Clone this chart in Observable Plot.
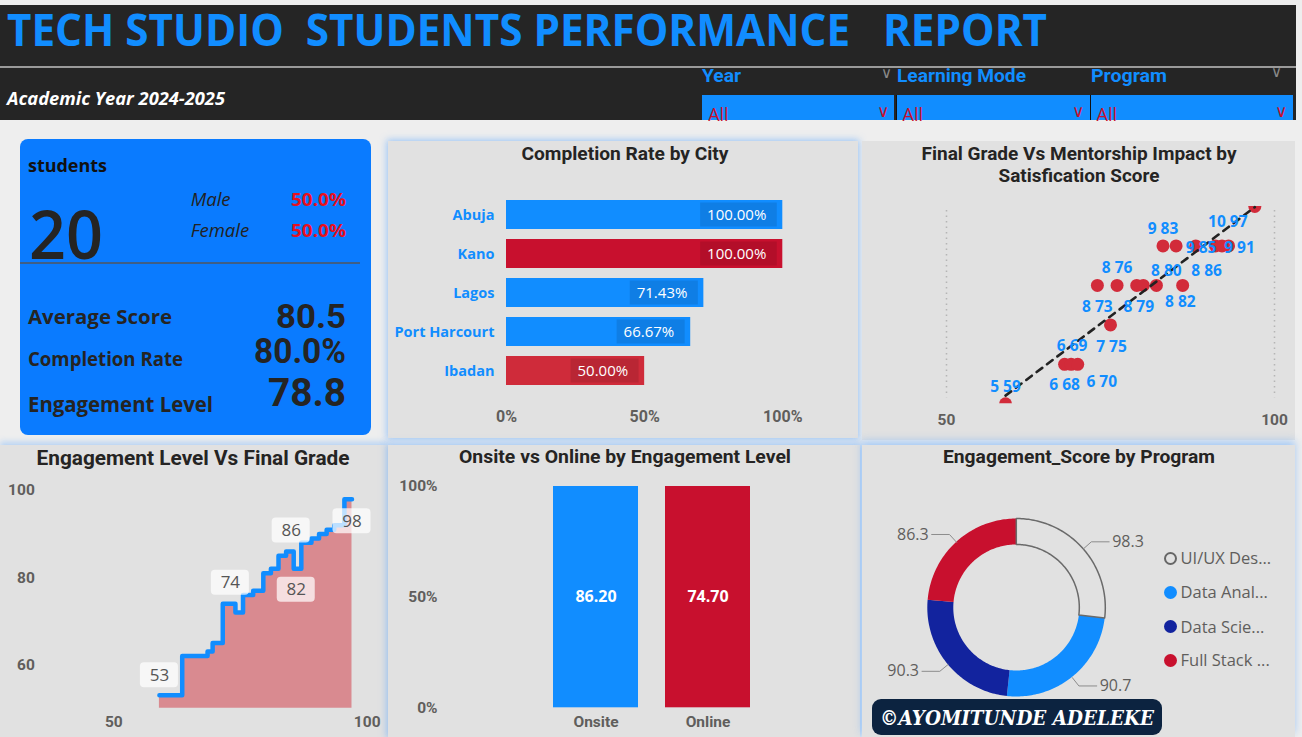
<!DOCTYPE html>
<html><head><meta charset="utf-8">
<script src="https://cdn.jsdelivr.net/npm/d3@7"></script>
<script src="https://cdn.jsdelivr.net/npm/@observablehq/plot@0.6"></script>
<style>
body{margin:0;width:1302px;height:737px;background:#eeeeee;position:relative;overflow:hidden;font-family:"Open Sans",sans-serif;}
.abs{position:absolute;white-space:pre;line-height:0.8;}
.box{position:absolute;}
.box svg{position:absolute;left:0;top:0;overflow:visible;}
</style></head><body>
<script>
// ---------------- DATA ----------------
const reportTitle = "TECH STUDIO  STUDENTS PERFORMANCE   REPORT";
const academicYear = "Academic Year 2024-2025";
const slicerNames = ["Year", "Learning Mode", "Program"];
const slicerValues = ["All", "All", "All"];

const studentCount = 20;
const genders = ["Male", "Female"];
const genderShare = [50.0, 50.0];
const kpiNames = ["Average Score", "Completion Rate", "Engagement Level"];
const kpiValues = ["80.5", "80.0%", "78.8"];

const cities = ["Abuja", "Kano", "Lagos", "Port Harcourt", "Ibadan"];
const completionRate = [100, 100, 71.43, 66.67, 50];

// scatter: final grade vs satisfaction score
const finalGrade   = [59, 68, 69, 70, 75, 73, 76, 79, 80, 82, 86, 83, 85, 88, 91, 92, 93, 97];
const satisfaction = [ 5,  6,  6,  6,  7,  8,  8,  8,  8,  8,  8,  9,  9,  9,  9,  9,  9, 10];
const labeledPoints = ["5 59","6 68","6 69","6 70","7 75","8 73","8 76","8 79","8 80","8 82","8 86","9 83","9 85","9 91","10 97"];

// step chart: engagement level vs final grade
const stepGrade      = [59, 68, 69, 70, 73, 75, 76, 79, 80, 82, 83, 85, 86, 88, 90, 91, 93, 94, 97];
const stepEngagement = [53, 62, 63, 65, 74, 72, 76, 77, 81, 82, 85, 86, 82, 88, 89, 90, 91, 92, 98];
const stepLabelGrades = [59, 73, 85, 86, 97];

const modes = ["Onsite", "Online"];
const modeEngagement = [86.20, 74.70];

const programs = ["UI/UX Design", "Data Analytics", "Data Science", "Full Stack Development"];
const programEngagement = [98.3, 90.7, 90.3, 86.3];

const credit = "©AYOMITUNDE ADELEKE";

// ---------------- STYLE ----------------
const BLUE = "#118DFF", RED = "#C8102E", NAVY = "#12239E", GRAY = "#605E5C", DARK = "#252423";

function el(tag, css, parent) {
  const d = document.createElement(tag);
  Object.assign(d.style, css);
  (parent || document.body).appendChild(d);
  return d;
}
function T(text, o) {
  const d = el("div", {left: o.x + "px", top: o.y + "px", fontSize: o.size + "px",
    fontWeight: o.weight || 400, fontStyle: o.italic ? "italic" : "normal", color: o.color || "#000",
    fontFamily: o.family || "Open Sans", letterSpacing: (o.ls || 0) + "px"});
  d.className = "abs";
  d.textContent = text;
  if (o.maxW) {
    let s = text;
    while (d.getBoundingClientRect().width > o.maxW && s.length > 1) {
      s = s.slice(0, -1);
      d.textContent = s + "...";
    }
  }
  const w = d.getBoundingClientRect().width;
  let s = o.w ? o.w / w : 1;
  s = Math.max(0.7, Math.min(1.3, s));
  const ax = o.anchor === "middle" ? -0.5 : o.anchor === "end" ? -1 : 0;
  d.style.transformOrigin = "0 0";
  d.style.transform = `translate(${ax * w * s}px, -50%) scaleX(${s})`;
  return d;
}
const glow = "0 0 7px 1px rgba(80,160,255,0.55)";

// ---------------- HEADER ----------------
el("div", {position: "absolute", left: "0px", top: "5px", width: "1296px", height: "115px", background: "#252525"});
el("div", {position: "absolute", left: "0px", top: "66px", width: "1296px", height: "2px", background: "#9a9a9a"});
T(reportTitle, {x: 7, y: 30, size: 44, weight: 700, color: BLUE, w: 1040});
T(academicYear, {x: 6.5, y: 98.5, size: 17, weight: 700, italic: true, color: "#fff", w: 218});
const slicerX = [[701.7, 894], [896, 1089], [1090, 1292]];
const slicerLabelW = [39, 129, 76];
slicerNames.forEach((n, i) => {
  const [a, b] = slicerX[i];
  el("div", {position: "absolute", left: a + "px", top: "95px", width: (b - a) + "px", height: "25px", background: BLUE, borderLeft: i ? "1px solid #111" : "none"});
  T(n, {x: a + 0.5, y: 75.5, size: 19, weight: 700, family: "Roboto", color: BLUE, w: slicerLabelW[i]});
  T(slicerValues[i], {x: a + 6.5, y: 114, size: 18, color: RED});
  T("\u2228", {x: b - 11, y: 110.5, size: 17, color: RED, anchor: "middle"});
});
T("\u2228", {x: 886, y: 71.5, size: 15, color: "#8a8a8a", anchor: "middle"});
T("\u2228", {x: 1276, y: 70.5, size: 15, color: "#8a8a8a", anchor: "middle"});

// ---------------- KPI CARD ----------------
el("div", {position: "absolute", left: "20px", top: "139px", width: "351px", height: "296px", background: "#0A7BFF", borderRadius: "8px"});
el("div", {position: "absolute", left: "20px", top: "261.5px", width: "340px", height: "2px", background: "#3f5f86"});
T("students", {x: 28.3, y: 164.5, size: 18, weight: 700, color: "#111", w: 79});
T(String(studentCount), {x: 29, y: 234, size: 67, weight: 600, color: DARK, w: 74});
genders.forEach((g, i) => {
  const yy = [199.3, 230][i];
  T(g, {x: 190.7, y: yy, size: 18.5, italic: true, color: "#222"});
  T(genderShare[i].toFixed(1) + "%", {x: 345.7, y: yy, size: 18.5, weight: 700, color: "#E8101E", anchor: "end", w: 55});
});
const kpiY = [317.3, 359.3, 403.5], kpiVY = [317, 351.5, 393], kpiSize = [20, 20, 21.5], kpiW = [144, 155, 185], kpiVS = [33.5, 34.5, 38], kpiVW = [70, 92, 78];
kpiNames.forEach((n, i) => {
  T(n, {x: 27.5, y: kpiY[i], size: kpiSize[i], weight: 700, color: DARK, w: kpiW[i]});
  T(kpiValues[i], {x: 345.5, y: kpiVY[i], size: kpiVS[i], weight: 700, family: "Roboto", color: DARK, anchor: "end", w: kpiVW[i]});
});

function mount(x, y, w, h, svg, css) {
  const p = el("div", Object.assign({left: x + "px", top: y + "px", width: w + "px", height: h + "px", background: "#e1e1e1"}, css || {}));
  p.className = "box";
  p.appendChild(svg);
  return p;
}
const axisFont = {fontSize: 15.5, fontWeight: "bold", fontFamily: "Roboto"};

// ---------------- COMPLETION RATE BY CITY ----------------
const cityData = cities.map((c, i) => ({city: c, rate: completionRate[i]}));
const rateLabel = d => d.rate.toFixed(2) + "%";
const cityPx = (394.3 - 118) / 100;
mount(388, 141, 470, 297, Plot.plot({
  width: 470, height: 297, marginLeft: 118, marginRight: 75.7, marginTop: 47, marginBottom: 41.3,
  style: {background: "transparent", fontFamily: "Open Sans"},
  x: {domain: [0, 100]}, y: {domain: cities, padding: 0.246},
  color: {domain: cities, range: [BLUE, RED, BLUE, BLUE, "#CF2B3A"]},
  marks: [
    Plot.barX(cityData, {y: "city", x: "rate", fill: "city"}),
    Plot.barX(cityData, {y: "city", x1: d => d.rate - (rateLabel(d).length * 8.6 + 22) / cityPx, x2: "rate",
      insetRight: 5.5, insetTop: 2.5, insetBottom: 2.5, fill: "#000", fillOpacity: 0.1}),
    Plot.text(cityData, {y: "city", x: "rate", text: rateLabel, textAnchor: "end", dx: -16.5, fill: "white", fontSize: 15}),
    Plot.axisX({ticks: [0, 50, 100], tickFormat: d => d + "%", tickSize: 0, tickPadding: 13, label: null, ...axisFont, fontSize: 16, fill: GRAY}),
    Plot.axisY({tickSize: 0, tickPadding: 12, label: null, fontSize: 14.5, fontWeight: "bold", fontFamily: "Open Sans", fill: BLUE})
  ]
}), {boxShadow: glow});
T("Completion Rate by City", {x: 625, y: 154, size: 19, weight: 700, family: "Roboto", color: DARK, anchor: "middle", w: 207});

// ---------------- SCATTER ----------------
const scatterData = finalGrade.map((g, i) => ({grade: g, sat: satisfaction[i], label: `${satisfaction[i]} ${g}`}));
const scatterLabelOffsets = {"5 59": [0, -17], "6 68": [0, 21], "6 69": [1, -18], "6 70": [24, 18], "7 75": [1, 22],
  "8 73": [0, 22], "8 76": [0, -17], "8 79": [2, 22], "8 80": [23, -14], "8 82": [24, 17], "8 86": [24, -14],
  "9 83": [0, -17], "9 85": [25, 2], "9 91": [24, 2], "10 97": [-27, 16]};
mount(862, 141, 433, 299, Plot.plot({
  width: 433, height: 299, marginLeft: 84, marginRight: 21, marginTop: 65, marginBottom: 36.7,
  style: {background: "transparent", fontFamily: "Open Sans"},
  x: {domain: [50, 100]}, y: {domain: [5, 10], axis: null},
  marks: [
    Plot.ruleX([50, 100], {stroke: "#b5b5b5", strokeWidth: 1.5, strokeDasharray: "1.5,4", insetTop: 4, insetBottom: 6}),
    Plot.dot(scatterData, {x: "grade", y: "sat", r: 6.5, fill: "#D22B3A", clip: true}),
    Plot.linearRegressionY(scatterData, {x: "grade", y: "sat", stroke: "#222", strokeWidth: 2.6, strokeDasharray: "7,6", ci: 0}),
    ...labeledPoints.map(l => Plot.text(scatterData.filter(d => d.label === l), {x: "grade", y: "sat", text: "label",
      dx: scatterLabelOffsets[l][0], dy: scatterLabelOffsets[l][1], fill: BLUE, fontWeight: "bold", fontSize: 15.5})),
    Plot.axisX({ticks: [50, 100], tickSize: 0, tickPadding: 10, label: null, ...axisFont, fill: GRAY})
  ]
}));
T("Final Grade Vs Mentorship Impact by", {x: 1079, y: 154, size: 19, weight: 700, family: "Roboto", color: DARK, anchor: "middle", w: 315});
T("Satisfication Score", {x: 1078.5, y: 175.5, size: 19, weight: 700, family: "Roboto", color: DARK, anchor: "middle", w: 161});

// ---------------- STEP CHART ----------------
const stepData = stepGrade.map((g, i) => ({grade: g, eng: stepEngagement[i]}));
const stepLabelDy = {59: -20, 73: -21, 85: -21, 86: 21, 97: 22};
const stepLabels = stepData.filter(d => stepLabelGrades.includes(d.grade));
mount(0, 445, 388, 292, Plot.plot({
  width: 388, height: 292, marginLeft: 113.3, marginRight: 21.3, marginTop: 45, marginBottom: 29.3,
  style: {background: "transparent", fontFamily: "Open Sans"},
  x: {domain: [50, 100]}, y: {domain: [50, 100]},
  marks: [
    Plot.areaY(stepData, {x: "grade", y: "eng", curve: "step", fill: "#D98A90", clip: true}),
    Plot.lineY(stepData, {x: "grade", y: "eng", curve: "step", stroke: BLUE, strokeWidth: 4.5}),
    ...stepLabels.map(d => Plot.rect([d], {x1: "grade", x2: "grade", y1: "eng", y2: "eng",
      insetLeft: -19, insetRight: -19, insetTop: -12.5, insetBottom: -12.5, dy: stepLabelDy[d.grade],
      rx: 4, fill: "white", fillOpacity: 0.72})),
    ...stepLabels.map(d => Plot.text([d], {x: "grade", y: "eng", text: d => String(d.eng), dy: stepLabelDy[d.grade],
      fill: "#555", fontSize: 17})),
    Plot.axisX({ticks: [50, 100], tickSize: 0, tickPadding: 8, label: null, ...axisFont, fill: GRAY}),
    Plot.axisY({ticks: [60, 80, 100], tickSize: 0, tickPadding: 79, label: null, ...axisFont, fill: GRAY})
  ]
}), {boxShadow: "0 -3px 6px rgba(80,160,255,0.35)"});
T("Engagement Level Vs Final Grade", {x: 193.3, y: 457.5, size: 20, weight: 700, family: "Roboto", color: DARK, anchor: "middle", w: 313});

// ---------------- ONSITE VS ONLINE ----------------
const modeData = modes.map((m, i) => ({mode: m, eng: modeEngagement[i]}));
mount(388, 445, 472, 292, Plot.plot({
  width: 472, height: 292, marginLeft: 137, marginRight: 82, marginTop: 41, marginBottom: 29.7,
  style: {background: "transparent", fontFamily: "Open Sans"},
  x: {domain: modes, padding: 0.244}, y: {domain: [0, 1]},
  color: {domain: modes, range: [BLUE, RED]},
  marks: [
    Plot.barY(modeData, Plot.stackY({offset: "normalize", x: "mode", y: "eng", fill: "mode"})),
    Plot.text(modeData, Plot.stackY({offset: "normalize", x: "mode", y: "eng", text: d => d.eng.toFixed(2),
      fill: "white", fontWeight: "bold", fontSize: 16})),
    Plot.axisX({tickSize: 0, tickPadding: 8, label: null, ...axisFont, fill: GRAY}),
    Plot.axisY({ticks: [0, 0.5, 1], tickFormat: "%", tickSize: 0, tickPadding: 88, label: null, ...axisFont, fill: GRAY})
  ]
}), {boxShadow: glow});
T("Onsite vs Online by Engagement Level", {x: 625, y: 457, size: 19, weight: 700, family: "Roboto", color: DARK, anchor: "middle", w: 332});

// ---------------- DONUT ----------------
const pie = d3.pie().sort(null).value(d => d)(programEngagement);
const inner = 0.708;
const ring = pie.flatMap((a, i) => {
  const n = Math.max(2, Math.ceil((a.endAngle - a.startAngle) / 0.02));
  return d3.range(n + 1).map(k => {
    const t = a.startAngle + (a.endAngle - a.startAngle) * k / n;
    return {program: programs[i], ox: Math.sin(t), oy: Math.cos(t), ix: inner * Math.sin(t), iy: inner * Math.cos(t)};
  });
});
const leaders = pie.flatMap((a, i) => {
  const m = (a.startAngle + a.endAngle) / 2, s = Math.sin(m) >= 0 ? 1 : -1, e = 1.12;
  return [
    {program: programs[i], x: Math.sin(m), y: Math.cos(m)},
    {program: programs[i], x: e * Math.sin(m), y: e * Math.cos(m)},
    {program: programs[i], x: e * Math.sin(m) + s * 0.2, y: e * Math.cos(m), value: programEngagement[i], side: s}
  ];
});
const ends = leaders.filter(d => d.value !== undefined);
mount(862, 445, 433, 292, Plot.plot({
  width: 433, height: 292, margin: 0,
  style: {background: "transparent", fontFamily: "Open Sans"},
  x: {domain: [-1, 1], range: [65.3, 243.3], axis: null},
  y: {domain: [-1, 1], range: [251.5, 73.5], axis: null},
  color: {domain: programs, range: ["transparent", BLUE, NAVY, RED]},
  marks: [
    Plot.area(ring.filter(d => d.program !== programs[0]), {x1: "ox", y1: "oy", x2: "ix", y2: "iy", z: "program", fill: "program"}),
    Plot.area(ring.filter(d => d.program === programs[0]), {x1: "ox", y1: "oy", x2: "ix", y2: "iy", z: "program", fill: "none", stroke: "#6a6a6a", strokeWidth: 1.5}),
    Plot.line(leaders, {x: "x", y: "y", z: "program", stroke: "#8c8c8c", strokeWidth: 1}),
    Plot.text(ends.filter(d => d.side > 0), {x: "x", y: "y", text: d => d.value.toFixed(1), textAnchor: "start", dx: 3, fill: GRAY, fontSize: 16}),
    Plot.text(ends.filter(d => d.side < 0), {x: "x", y: "y", text: d => d.value.toFixed(1), textAnchor: "end", dx: -3, fill: GRAY, fontSize: 16})
  ]
}), {boxShadow: "0 -4px 8px rgba(80,160,255,0.45)"});
T("Engagement_Score by Program", {x: 1078.8, y: 457, size: 19, weight: 700, family: "Roboto", color: DARK, anchor: "middle", w: 272});
// legend
const legendColors = ["none", BLUE, NAVY, RED];
const legendY = [558.3, 592.3, 626.7, 660];
programs.forEach((p, i) => {
  el("div", {position: "absolute", left: (1170 - 6.5) + "px", top: (legendY[i] - 6.5) + "px", width: "13px", height: "13px",
    borderRadius: "50%", boxSizing: "border-box", background: legendColors[i] === "none" ? "transparent" : legendColors[i],
    border: legendColors[i] === "none" ? "2.5px solid #666" : "none"});
  T(p, {x: 1180.5, y: legendY[i], size: 16.5, color: GRAY, maxW: 91});
});
// credit badge
el("div", {position: "absolute", left: "871.7px", top: "699.3px", width: "290px", height: "36px", background: "#0C2340", borderRadius: "9px"});
T(credit, {x: 1016.5, y: 717.5, size: 21, weight: 700, italic: true, family: "DejaVu Serif", color: "#fff", anchor: "middle", w: 274});
</script>
</body></html>
